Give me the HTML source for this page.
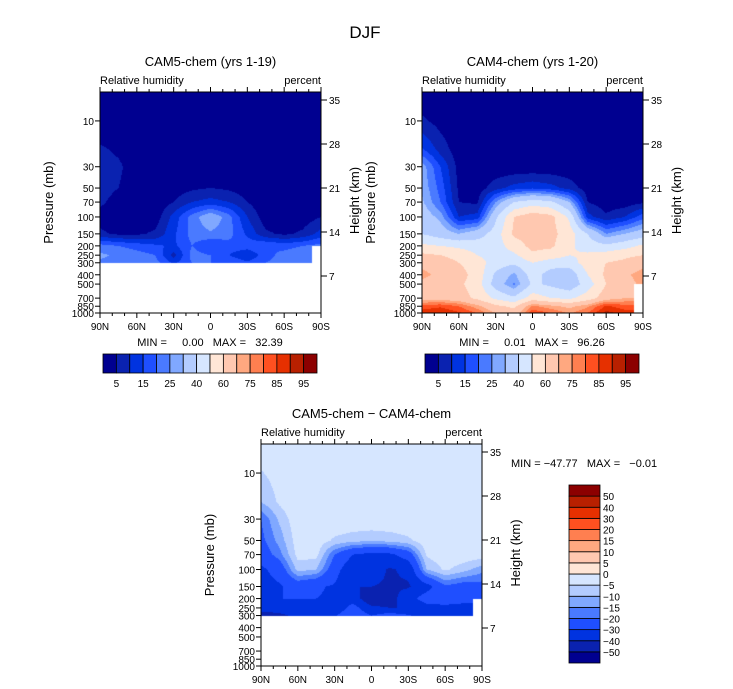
<!DOCTYPE html>
<html><head><meta charset="utf-8">
<style>
html,body{margin:0;padding:0;background:#fff;}
#wrap{position:relative;width:733px;height:689px;overflow:hidden;font-family:"Liberation Sans",sans-serif;}
canvas{position:absolute;}
svg{position:absolute;left:0;top:0;}
text{font-family:"Liberation Sans",sans-serif;fill:#000;white-space:pre;}
</style></head>
<body>
<div id="wrap">
<canvas id="c1" width="221" height="221" style="left:100px;top:92px"></canvas>
<canvas id="c2" width="221" height="221" style="left:422px;top:92px"></canvas>
<canvas id="c3" width="221" height="222" style="left:261px;top:444px"></canvas>
<svg id="ov" width="733" height="689"></svg>
</div>
<script>
const lats=[90,75,60,45,30,15,0,-15,-30,-45,-60,-75,-90];
const levels=[5,10,20,30,50,70,100,150,200,250,300,400,500,700,850,1000];
const N=null;
const cam5=[
[0.5,0.5,0.5,0.5,0.5,0.5,0.5,0.5,0.5,0.5,0.5,0.5,0.5],
[0.5,0.5,0.5,0.5,0.5,0.5,0.5,0.5,0.5,0.5,0.5,0.5,0.5],
[6,4,2,0.5,0.5,0.5,0.5,0.5,0.5,0.5,0.5,0.5,0.5],
[8,6,2,0.5,0.5,0.5,0.5,0.5,0.5,0.5,0.5,0.5,0.5],
[7,5,2,0.5,2,4,5,4,2,0.5,0.5,0.5,0.5],
[6,3,2,1,5,10,12,10,5,1,1,1,2],
[3,2,2,2,12,22,30,22,10,2,2,2,5],
[6,4,4,6,14,22,24,22,14,6,4,6,12],
[22,20,18,16,14,20,15,18,18,20,18,20,22],
[26,24,22,20,8,22,20,15,10,18,22,24,N],
[24,24,22,22,14,20,20,20,16,20,22,24,N],
[N,N,N,N,N,N,N,N,N,N,N,N,N],
[N,N,N,N,N,N,N,N,N,N,N,N,N],
[N,N,N,N,N,N,N,N,N,N,N,N,N],
[N,N,N,N,N,N,N,N,N,N,N,N,N],
[N,N,N,N,N,N,N,N,N,N,N,N,N]];
const cam4=[
[1,1,1,1,1,1,1,1,1,1,1,1,1],
[6,3,1,1,1,1,1,1,1,1,1,1,1],
[16,8,2,1,1,1,1,1,1,1,1,1,1],
[28,15,3,1,1,1,1,1,1,1,1,1,1],
[29,18,4,2,8,12,14,12,8,2,1,1,1],
[31,20,5,4,25,40,45,42,30,5,2,2,4],
[35,28,10,12,38,60,66,63,48,12,6,10,18],
[40,35,30,35,45,62,64,63,55,40,25,30,35],
[52,50,48,46,45,55,63,62,52,45,42,46,52],
[62,60,56,50,45,48,58,55,50,52,55,58,60],
[68,66,60,55,45,42,50,45,45,55,60,62,66],
[72,68,64,56,38,28,45,35,33,50,62,68,74],
[68,66,62,55,35,24,42,38,33,45,60,66,72],
[66,66,64,58,48,42,55,50,48,55,66,70,N],
[82,84,80,72,62,58,76,72,68,74,86,82,N],
[88,90,86,80,70,64,84,80,74,80,92,88,N]];
const rhBounds=[5,10,15,20,25,30,40,50,60,70,75,80,85,90,95];
const rhLabels=["5","15","25","40","60","75","85","95"];
const diffBounds=[-50,-40,-30,-20,-15,-10,-5,0,5,10,15,20,30,40,50];
const diffLabels=["50","40","30","20","15","10","5","0","−5","−10","−15","−20","−30","−40","−50"];
const colors=["#000090","#0a22b0","#0033e0","#1f4fff","#4a7aff","#80a8ff","#b3ccff","#d6e6ff","#ffe6d6","#ffc8b0","#ffa880","#ff7f50","#ff5020","#e63000","#b82000","#8c0000"];
const latTicks=[90,60,30,0,-30,-60,-90];
const latTickLabels=["90N","60N","30N","0","30S","60S","90S"];
const pTicks=[10,30,50,70,100,150,200,250,300,400,500,700,850,1000];
const hTicks=[35,28,21,14,7];

const diff=levels.map((l,i)=>lats.map((la,j)=>{const a=cam5[i][j],b=cam4[i][j];if(a===null||b===null)return null;return Math.min(a-b,-0.01);}));

function sample(g,lat,p){
  const fj=(90-lat)/15;
  const lp=Math.log10(p);
  let k=0;while(k<levels.length-2&&Math.log10(levels[k+1])<lp)k++;
  const l0=Math.log10(levels[k]),l1=Math.log10(levels[k+1]);
  const t=Math.max(0,Math.min(1,(lp-l0)/(l1-l0)));
  const j0=Math.min(Math.floor(fj),lats.length-2),u=fj-j0;
  const nj=u<0.5?j0:j0+1;
  if(g[k][nj]===null)return null;
  if(t>0.02&&g[k+1][nj]===null)return null;
  const c=[g[k][j0],g[k][j0+1],g[k+1][j0],g[k+1][j0+1]];
  if(c.some(v=>v===null)){const a=g[k][nj],b=g[k+1][nj];return b===null?a:a*(1-t)+b*t;}
  return c[0]*(1-t)*(1-u)+c[1]*(1-t)*u+c[2]*t*(1-u)+c[3]*t*u;
}
function hexRGB(h){return [parseInt(h.slice(1,3),16),parseInt(h.slice(3,5),16),parseInt(h.slice(5,7),16)];}
const rgb=colors.map(hexRGB);
function colorIdx(v,b){let i=0;while(i<b.length&&v>=b[i])i++;return i;}
function draw(id,g,b){
  const cv=document.getElementById(id),ctx=cv.getContext('2d');
  const w=cv.width,h=cv.height,img=ctx.createImageData(w,h);
  const L0=Math.log10(5),L1=3;
  for(let y=0;y<h;y++){const p=Math.pow(10,L0+(y+0.5)/h*(L1-L0));
    for(let x=0;x<w;x++){const lat=90-180*(x+0.5)/w;const v=sample(g,lat,p);const o=(y*w+x)*4;
      let c=[255,255,255];if(v!==null)c=rgb[colorIdx(v,b)];
      img.data[o]=c[0];img.data[o+1]=c[1];img.data[o+2]=c[2];img.data[o+3]=255;}}
  ctx.putImageData(img,0,0);
}
draw('c1',cam5,rhBounds);draw('c2',cam4,rhBounds);draw('c3',diff,diffBounds);

const S='http://www.w3.org/2000/svg',ov=document.getElementById('ov');
function el(tag,attrs,parent){const e=document.createElementNS(S,tag);for(const k in attrs)e.setAttribute(k,attrs[k]);(parent||ov).appendChild(e);return e;}
function txt(x,y,s,size,anchor,parent,rot){const e=el('text',{x:x,y:y,'font-size':size,'text-anchor':anchor||'middle'},parent);if(rot)e.setAttribute('transform','rotate(-90 '+x+' '+y+')');e.textContent=s;return e;}

function axes(name,x0,y0,w,h,title,mm,mmx,mmy,mmAnchor){
  const g=el('g',{});
  
  
  const xs=lat=>x0+(90-lat)/180*w;
  const ys=p=>y0+(Math.log10(p)-Math.log10(5))/(3-Math.log10(5))*h;
  const yh=z=>y0+8+(35-z)*(176/28);
  const fr=el('rect',{x:x0,y:y0,width:w,height:h,fill:'none',stroke:'#000','stroke-width':1},g);
  
  
  for(let lat=90;lat>=-90;lat-=10){const X=xs(lat),maj=lat%30===0,L=maj?5:3;
    el('line',{x1:X,y1:y0+h,x2:X,y2:y0+h+L,stroke:'#000'},g);
    el('line',{x1:X,y1:y0,x2:X,y2:y0-L,stroke:'#000'},g);}
  latTicks.forEach((lat,i)=>{const t=txt(xs(lat),y0+h+17,latTickLabels[i],10,'middle',g);
    
    });
  pTicks.forEach(p=>{const Y=ys(p);el('line',{x1:x0-5,y1:Y,x2:x0,y2:Y,stroke:'#000'},g);
    const t=txt(x0-6,Y+4,String(p),10,'end',g);
    
    });
  hTicks.forEach(z=>{const Y=yh(z);el('line',{x1:x0+w,y1:Y,x2:x0+w+6,y2:Y,stroke:'#000'},g);
    const t=txt(x0+w+8,Y+4,String(z),10,'start',g);
    
    });
  const a=txt(x0-47,y0+h/2,'Pressure (mb)',13,'middle',g,true);
  
  
  const b=txt(x0+w+38,y0+h/2-2,'Height (km)',13,'middle',g,true);
  
  
  const t1=txt(x0+w/2,y0-26,title,13,'middle',g);
  
  
  const t2=txt(x0,y0-8,'Relative humidity',11,'start',g);
  
  
  const t3=txt(x0+w,y0-8,'percent',11,'end',g);
  
  
  const t4=el('text',{x:mmx,y:mmy,'font-size':11,'text-anchor':mmAnchor},g);
  t4.textContent=mm;
  
  
}
axes('cam5',100,92,221,221,'CAM5-chem (yrs 1-19)','MIN =     0.00   MAX =   32.39',210,346,'middle');
axes('cam4',422,92,221,221,'CAM4-chem (yrs 1-20)','MIN =     0.01   MAX =   96.26',532,346,'middle');
axes('diff',261,444,221,222,'CAM5-chem − CAM4-chem','MIN = −47.77   MAX =   −0.01',511,467,'start');

function hbar(name,x0,y0,w,h){
  const g=el('g',{});
  
  
  const bw=w/colors.length;
  colors.forEach((c,i)=>{const r=el('rect',{x:x0+i*bw,y:y0,width:bw,height:h,fill:c,stroke:'#000','stroke-width':0.8},g);
    
    });
  rhLabels.forEach((s,i)=>{const t=txt(x0+(2*i+1)*bw,y0+h+14,s,10,'middle',g);
    
    });
}
hbar('cam5-colorbar',103,354,214,19);
hbar('cam4-colorbar',425,354,214,19);
(function(){
  const g=el('g',{});
  
  
  const x0=569,y0=485,w=31,h=178,bh=h/colors.length;
  colors.forEach((c,i)=>{const r=el('rect',{x:x0,y:y0+h-(i+1)*bh,width:w,height:bh,fill:c,stroke:'#000','stroke-width':0.8},g);
    
    });
  diffLabels.forEach((s,i)=>{const t=txt(x0+w+3,y0+(i+1)*bh+4,s,10,'start',g);
    
    });
})();
const main=txt(365,38,'DJF',17,'middle');


</script>
</body></html>
